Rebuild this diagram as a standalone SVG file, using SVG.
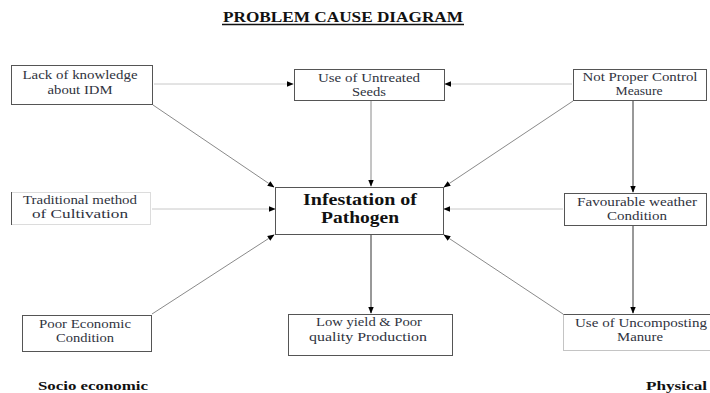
<svg xmlns="http://www.w3.org/2000/svg" width="710" height="393" viewBox="0 0 710 393">
  <defs>
    <marker id="arr" viewBox="0 0 10 10" refX="9" refY="5" markerWidth="7" markerHeight="7" orient="auto-start-reverse" markerUnits="userSpaceOnUse">
      <path d="M0,1 L10,5 L0,9 z" fill="#000"/>
    </marker>
  </defs>
  <style>
    .box { fill: #fff; stroke: #555; stroke-width: 1; }
    .lbl { font-family: "Liberation Serif", "Times New Roman", serif; font-size: 12px; fill: #2f3340; text-anchor: middle; }
    .big { font-family: "Liberation Serif", "Times New Roman", serif; font-size: 16px; font-weight: bold; fill: #111; text-anchor: middle; }
    .side { font-family: "Liberation Serif", "Times New Roman", serif; font-size: 13.5px; font-weight: bold; fill: #111; }
    .con { fill: none; stroke: #8a8a8a; stroke-width: 1; marker-end: url(#arr); }
    .con-lt { fill: none; stroke: #c8c8c8; stroke-width: 1; marker-end: url(#arr); }
    .con-dk { fill: none; stroke: #333; stroke-width: 1; marker-end: url(#arr); }
  </style>
  <rect width="710" height="393" fill="#fff"/>

  <!-- title -->
  <g id="title">
    <text x="343" y="22" font-family="'Liberation Serif', 'Times New Roman', serif" font-size="15" font-weight="bold" fill="#111" text-anchor="middle" textLength="240" lengthAdjust="spacingAndGlyphs">PROBLEM CAUSE  DIAGRAM</text>
    <line x1="222" y1="24.5" x2="464" y2="24.5" stroke="#111" stroke-width="1.3"/>
  </g>

  <!-- connectors -->
  <g id="connectors">
    <line class="con-lt" x1="154" y1="84" x2="293" y2="84"/>
    <line class="con-lt" x1="572" y1="84" x2="445" y2="84"/>
    <line class="con" x1="153" y1="105" x2="274" y2="187"/>
    <line class="con" x1="371" y1="101" x2="371" y2="186"/>
    <line class="con" x1="573" y1="101" x2="444" y2="187"/>
    <line class="con-dk" x1="633" y1="101" x2="633" y2="192"/>
    <line class="con-lt" x1="152" y1="209" x2="275" y2="209"/>
    <line class="con-lt" x1="563" y1="209" x2="444" y2="209"/>
    <line class="con" x1="152" y1="314" x2="274" y2="235"/>
    <line class="con-dk" x1="371" y1="234" x2="371" y2="313"/>
    <line class="con" x1="563" y1="314" x2="444" y2="235"/>
    <line class="con-dk" x1="633" y1="225" x2="633" y2="313"/>
  </g>

  <!-- cause nodes -->
  <g id="lack-knowledge">
    <rect class="box" x="11.5" y="65.5" width="141" height="39"/>
    <text class="lbl" x="80" y="79" textLength="115" lengthAdjust="spacingAndGlyphs">Lack of knowledge</text>
    <text class="lbl" x="80" y="94" textLength="65" lengthAdjust="spacingAndGlyphs">about IDM</text>
  </g>
  <g id="untreated-seeds">
    <rect class="box" x="294.5" y="69.5" width="150" height="31"/>
    <text class="lbl" x="369" y="82" textLength="102" lengthAdjust="spacingAndGlyphs">Use of Untreated</text>
    <text class="lbl" x="369" y="96" textLength="34" lengthAdjust="spacingAndGlyphs">Seeds</text>
  </g>
  <g id="control-measure">
    <rect class="box" x="573.5" y="69.5" width="133" height="31"/>
    <text class="lbl" x="640" y="81" textLength="115" lengthAdjust="spacingAndGlyphs">Not Proper Control</text>
    <text class="lbl" x="639" y="95" textLength="47" lengthAdjust="spacingAndGlyphs">Measure</text>
  </g>
  <g id="traditional-method">
    <rect x="11.5" y="192.5" width="139" height="32" fill="#fff" stroke="#dcdcdc"/>
    <line x1="11.5" y1="192" x2="11.5" y2="225" stroke="#555"/>
    <text class="lbl" x="80" y="204" textLength="114" lengthAdjust="spacingAndGlyphs">Traditional method</text>
    <text class="lbl" x="80" y="218" textLength="96" lengthAdjust="spacingAndGlyphs">of Cultivation</text>
  </g>
  <g id="infestation">
    <rect class="box" x="275.5" y="187.5" width="168" height="47"/>
    <text class="big" x="360" y="205" textLength="114" lengthAdjust="spacingAndGlyphs">Infestation of</text>
    <text class="big" x="360" y="223" textLength="78" lengthAdjust="spacingAndGlyphs">Pathogen</text>
  </g>
  <g id="favourable-weather">
    <rect class="box" x="564.5" y="193.5" width="142" height="32"/>
    <text class="lbl" x="637" y="206" textLength="120" lengthAdjust="spacingAndGlyphs">Favourable weather</text>
    <text class="lbl" x="637" y="220" textLength="60" lengthAdjust="spacingAndGlyphs">Condition</text>
  </g>
  <g id="poor-economic">
    <rect class="box" x="22.5" y="315.5" width="129" height="36"/>
    <text class="lbl" x="85" y="328" textLength="92" lengthAdjust="spacingAndGlyphs">Poor Economic</text>
    <text class="lbl" x="85" y="342" textLength="58" lengthAdjust="spacingAndGlyphs">Condition</text>
  </g>
  <g id="low-yield">
    <rect class="box" x="288.5" y="314.5" width="164" height="41"/>
    <text class="lbl" x="369" y="326" textLength="106" lengthAdjust="spacingAndGlyphs">Low yield &amp; Poor</text>
    <text class="lbl" x="368" y="341" textLength="118" lengthAdjust="spacingAndGlyphs">quality Production</text>
  </g>
  <g id="uncomposting-manure">
    <rect x="563.5" y="314.5" width="150" height="36" fill="#fff" stroke="#c4c4c4"/>
    <line x1="563.5" y1="314.5" x2="710" y2="314.5" stroke="#555"/>
    <text class="lbl" x="641" y="327" textLength="132" lengthAdjust="spacingAndGlyphs">Use of Uncomposting</text>
    <text class="lbl" x="640" y="341" textLength="46" lengthAdjust="spacingAndGlyphs">Manure</text>
  </g>

  <!-- group labels -->
  <g id="labels">
    <text class="side" x="38" y="390" textLength="110" lengthAdjust="spacingAndGlyphs">Socio economic</text>
    <text class="side" x="646" y="390" textLength="61" lengthAdjust="spacingAndGlyphs">Physical</text>
  </g>
</svg>
